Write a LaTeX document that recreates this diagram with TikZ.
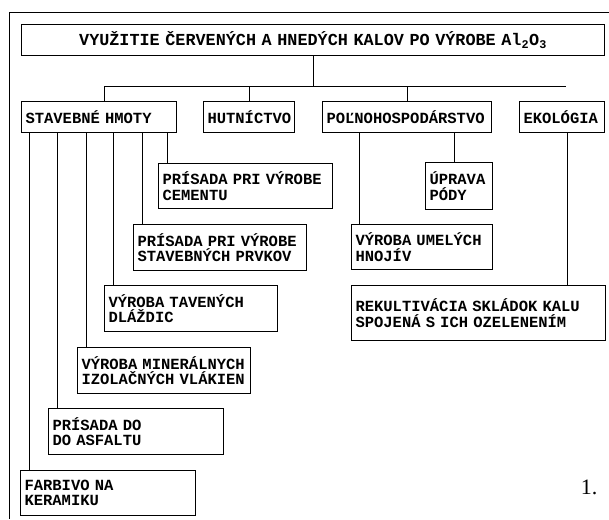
\documentclass[tikz,border=0pt]{standalone}
\usepackage{fontspec}
\setmainfont{Liberation Serif}
\setmonofont{Liberation Mono}
\usepackage{tikz}

\begin{document}
\begin{tikzpicture}[x=1pt, y=-1pt, line width=1pt,
font=\ttfamily\bfseries\fontsize{15.5pt}{15.5pt}\selectfont,
box/.style={draw, anchor=north west, align=left, inner xsep=4pt, inner ysep=1pt},
one/.style={box, minimum height=31pt},
two/.style={box, minimum height=46pt}]
\useasboundingbox (0,0) rectangle (609,519);
\draw (609,13) -- (9,13) -- (9,519);
\node[box, align=center, text width=575pt, minimum height=31pt,
  font=\ttfamily\bfseries\fontsize{16.8pt}{16.8pt}\selectfont] (title) at (21,24)
  {VYUŽITIE ČERVENÝCH A HNEDÝCH KALOV PO VÝROBE Al\textsubscript{2}O\textsubscript{3}};
\node[one, text width=147pt] (stav) at (21,101) {STAVEBNÉ HMOTY};
\node[one, text width=83pt] (hut) at (203,101) {HUTNÍCTVO};
\node[one, text width=161pt] (pol) at (322,101) {POĽNOHOSPODÁRSTVO};
\node[one, text width=77pt] (eko) at (519,101) {EKOLÓGIA};
\node[two, text width=166pt, minimum height=45pt] (cem) at (158,163) {PRÍSADA~PRI~VÝROBE\\CEMENTU};
\node[two, text width=165pt] (prvk) at (133,224) {PRÍSADA~PRI~VÝROBE\\STAVEBNÝCH PRVKOV};
\node[two, text width=165pt] (dlaz) at (104,285) {VÝROBA TAVENÝCH\\DLÁŽDIC};
\node[two, text width=165pt] (vlak) at (77,347) {VÝROBA~MINERÁLNYCH\\IZOLAČNÝCH~VLÁKIEN};
\node[two, text width=167pt] (asf) at (48,408) {PRÍSADA DO\\DO ASFALTU};
\node[two, text width=167pt, minimum height=45pt] (ker) at (20,470) {FARBIVO NA\\KERAMIKU};
\node[two, text width=59pt, minimum height=47pt] (upr) at (425,162) {ÚPRAVA\\PÓDY};
\node[two, text width=133pt, minimum height=45pt] (hnoj) at (351,224) {VÝROBA UMELÝCH\\HNOJÍV};
\node[box, text width=246pt, minimum height=55pt] (rek) at (351,285) {REKULTIVÁCIA SKLÁDOK KALU\\SPOJENÁ S ICH OZELENENÍM};
\node[font=\rmfamily\fontsize{22pt}{24pt}\selectfont] (num) at (589,487) {1.};
\coordinate (busL) at (104,86);
\coordinate (busR) at (566,86);
\draw (busL) -- (busR);
\draw (title.south) -- (title.south |- busL);
\draw (busL) -- (busL |- stav.north);
\draw (hut.north) -- (hut.north |- busL);
\draw (pol.north) -- (pol.north |- busL);
\foreach \c in {cem,prvk,dlaz,vlak,asf,ker}
  \draw ([xshift=9pt]\c.north west) -- ([xshift=9pt]\c.north west |- stav.south);
\draw ([xshift=8pt]hnoj.north west) -- ([xshift=8pt]hnoj.north west |- pol.south);
\draw ([xshift=-5pt]upr.north) -- ([xshift=-5pt]upr.north |- pol.south);
\draw ([xshift=5pt]eko.south) -- ([xshift=5pt]eko.south |- rek.north);
\end{tikzpicture}
\end{document}
